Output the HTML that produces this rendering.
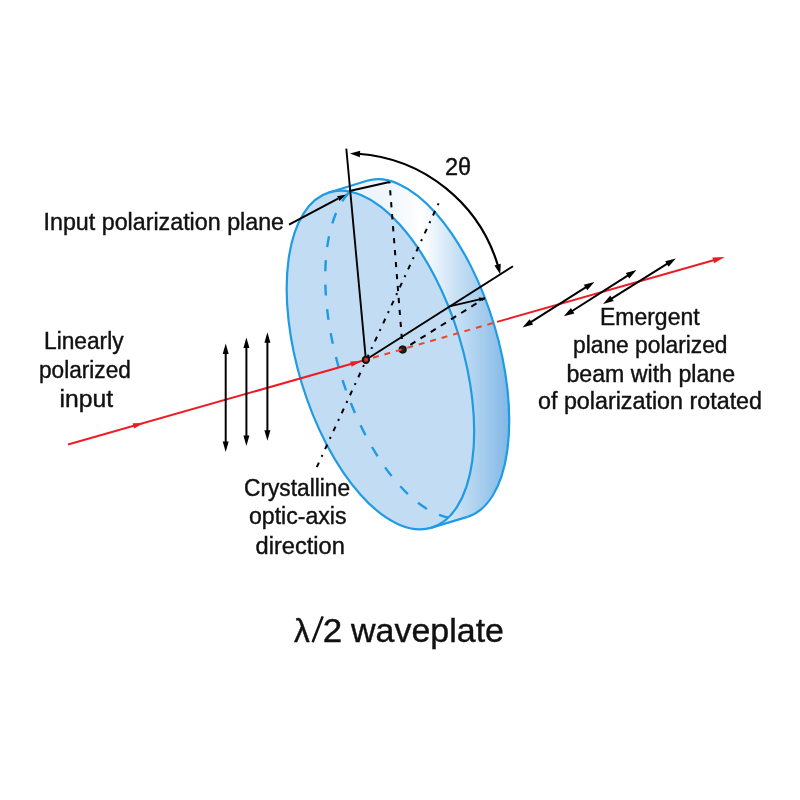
<!DOCTYPE html>
<html><head><meta charset="utf-8">
<style>
html,body{margin:0;padding:0;background:#fff;}
body{width:800px;height:800px;overflow:hidden;}
svg{display:block;will-change:transform;}
text{font-family:"Liberation Sans",sans-serif;fill:#111;stroke:#111;stroke-width:0.4px;}
</style></head><body>
<svg width="800" height="800" viewBox="0 0 800 800">
<defs>
<linearGradient id="side" gradientUnits="userSpaceOnUse" x1="330" y1="0" x2="512" y2="0">
<stop offset="0.0549" stop-color="#eaf3fb"/><stop offset="0.3297" stop-color="#f0f6fc"/><stop offset="0.5055" stop-color="#ffffff"/><stop offset="0.6923" stop-color="#c9e1f4"/><stop offset="1.0000" stop-color="#7db5e5"/>
</linearGradient>
<linearGradient id="sidew" gradientUnits="userSpaceOnUse" x1="347.94000000000005" y1="249.215" x2="367.82000000000005" y2="316.345">
<stop offset="0" stop-color="#fff" stop-opacity="1"/>
<stop offset="1" stop-color="#fff" stop-opacity="0"/>
</linearGradient>
<clipPath id="clipE1"><ellipse transform="translate(380.43,360.00) rotate(72.98)" rx="175.25" ry="82.07"/></clipPath>
</defs>
<rect width="800" height="800" fill="#fff"/>
<path d="M329.08,192.44 L366.99,180.78 A175.41,80.9 73.41 0 1 467.50,516.89 L431.48,527.65 A175.25,82.07 72.98 0 0 329.08,192.44 Z" fill="url(#side)"/>
<ellipse transform="translate(380.43,360.00) rotate(72.98)" rx="175.25" ry="82.07" fill="#c2ddf3"/>
<g fill="none" stroke="#1f9be3" stroke-width="2.2"><ellipse transform="translate(380.43,360.00) rotate(72.98)" rx="175.25" ry="82.07"/><path d="M329.08,192.44 L366.99,180.78 M431.48,527.65 L467.50,516.89"/><path d="M366.99,180.78 A175.41,80.9 73.41 0 1 467.50,516.89"/><path d="M366.99,180.78 A175.41,80.9 73.41 0 0 467.50,516.89" clip-path="url(#clipE1)" stroke-width="2.4" stroke-dasharray="10.9 13.4" stroke-dashoffset="2.4"/></g>
<g stroke="#000" stroke-width="1.9" fill="none"><path d="M346.30,148.70 L365.90,359.80"/><path d="M365.90,359.80 L513.00,266.20"/><path d="M349.50,191.00 L389.50,182.00"/><path d="M449.50,306.40 L485.00,298.10"/><path d="M389.50,182.00 L402.70,349.60" stroke-width="2.0" stroke-dasharray="5.2 6.8" stroke-dashoffset="3.75"/><path d="M402.70,349.60 L485.00,298.10" stroke-width="2.0" stroke-dasharray="6 6" stroke-dashoffset="3"/><path d="M438.60,203.30 L315.70,469.50" stroke-dasharray="2.0 6.4 5 6.4" stroke-width="2.0"/></g>
<path d="M358.01,153.74 A157.51,157.51 0 0 1 498.17,266.46" stroke="#000" stroke-width="2.2" fill="none"/>
<path d="M350.02,153.39 L360.17,150.65 L359.84,157.14 Z" fill="#000"/>
<path d="M500.23,274.18 L494.46,265.40 L500.73,263.68 Z" fill="#000"/>
<path d="M289,224.6 L338,198.6" stroke="#000" stroke-width="2" fill="none"/>
<path d="M346.20,194.40 L339.46,200.90 L337.03,196.30 Z" fill="#000"/>
<path d="M485.00,298.10 L479.61,301.41 L478.70,297.52 Z" fill="#000"/>
<g stroke="#ed1c24" stroke-width="2.0" fill="none"><path d="M68.00,444.50 L365.90,359.80"/><path d="M497.00,321.90 L717.11,259.19"/></g>
<path d="M724.80,257.00 L714.08,263.17 L712.44,257.40 Z" fill="#ed1c24"/>
<path d="M144.00,422.90 L134.17,428.55 L132.67,423.26 Z" fill="#ed1c24"/>
<path d="M361.50,361.10 L351.67,366.75 L350.17,361.46 Z" fill="#ed1c24"/>
<circle cx="365.9" cy="359.8" r="3.2" fill="#b82520" stroke="#111" stroke-width="1.9"/>
<circle cx="402.7" cy="349.6" r="3.3" fill="#222" stroke="#111" stroke-width="1.6"/>
<path d="M365.90,359.80 L497.00,321.90" stroke="#f0452a" stroke-width="2.0" stroke-dasharray="6 5.9" stroke-dashoffset="-7.4" fill="none"/>
<path d="M225.70,352.10 L225.70,443.60" stroke="#000" stroke-width="2" fill="none"/><path d="M225.70,452.10 L222.70,441.60 L228.70,441.60 Z" fill="#000"/><path d="M225.70,343.60 L228.70,354.10 L222.70,354.10 Z" fill="#000"/>
<path d="M246.40,346.00 L246.40,437.50" stroke="#000" stroke-width="2" fill="none"/><path d="M246.40,446.00 L243.40,435.50 L249.40,435.50 Z" fill="#000"/><path d="M246.40,337.50 L249.40,348.00 L243.40,348.00 Z" fill="#000"/>
<path d="M267.40,340.70 L267.40,432.30" stroke="#000" stroke-width="2" fill="none"/><path d="M267.40,440.80 L264.40,430.30 L270.40,430.30 Z" fill="#000"/><path d="M267.40,332.20 L270.40,342.70 L264.40,342.70 Z" fill="#000"/>
<path d="M529.68,322.95 L587.22,286.45" stroke="#000" stroke-width="2" fill="none"/><path d="M594.40,281.90 L587.27,290.27 L583.79,284.78 Z" fill="#000"/><path d="M522.50,327.50 L529.63,319.13 L533.11,324.62 Z" fill="#000"/>
<path d="M570.97,311.74 L629.23,274.66" stroke="#000" stroke-width="2" fill="none"/><path d="M636.40,270.10 L629.29,278.48 L625.80,273.00 Z" fill="#000"/><path d="M563.80,316.30 L570.91,307.92 L574.40,313.40 Z" fill="#000"/>
<path d="M610.31,299.39 L668.59,262.91" stroke="#000" stroke-width="2" fill="none"/><path d="M675.80,258.40 L668.62,266.73 L665.18,261.22 Z" fill="#000"/><path d="M603.10,303.90 L610.28,295.57 L613.72,301.08 Z" fill="#000"/>
<text x="43.5" y="229.6" font-size="23" textLength="240.55" lengthAdjust="spacingAndGlyphs">Input polarization plane</text>
<text x="44.0" y="348.5" font-size="23" textLength="79.58" lengthAdjust="spacingAndGlyphs">Linearly</text>
<text x="39.0" y="377.75" font-size="23" textLength="91.82" lengthAdjust="spacingAndGlyphs">polarized</text>
<text x="59.5" y="406.7" font-size="23" textLength="53.57" lengthAdjust="spacingAndGlyphs">input</text>
<text x="600.0" y="324.6" font-size="23" textLength="99.56" lengthAdjust="spacingAndGlyphs">Emergent</text>
<text x="573.0" y="352.5" font-size="23" textLength="154.56" lengthAdjust="spacingAndGlyphs">plane polarized</text>
<text x="566.5" y="381.6" font-size="23" textLength="168.53" lengthAdjust="spacingAndGlyphs">beam with plane</text>
<text x="538.0" y="408.6" font-size="23" textLength="224.02" lengthAdjust="spacingAndGlyphs">of polarization rotated</text>
<text x="244.0" y="496.25" font-size="23" textLength="106.07" lengthAdjust="spacingAndGlyphs">Crystalline</text>
<text x="249.0" y="524.25" font-size="23" textLength="97.52" lengthAdjust="spacingAndGlyphs">optic-axis</text>
<text x="255.5" y="553.65" font-size="23" textLength="89.32" lengthAdjust="spacingAndGlyphs">direction</text>
<text x="445.0" y="175" font-size="23" textLength="26.18" lengthAdjust="spacingAndGlyphs">2θ</text>
<text x="294.0" y="642.25" font-size="33" textLength="15.78" lengthAdjust="spacingAndGlyphs">λ</text>
<text x="322.75" y="642.25" font-size="33" textLength="19.41" lengthAdjust="spacingAndGlyphs">2</text>
<text x="351.0" y="642.25" font-size="33" textLength="153.02" lengthAdjust="spacingAndGlyphs">waveplate</text>
<path d="M312.6,642.2 L322.7,616.4" stroke="#111" stroke-width="2.5" fill="none"/>
</svg>
</body></html>
